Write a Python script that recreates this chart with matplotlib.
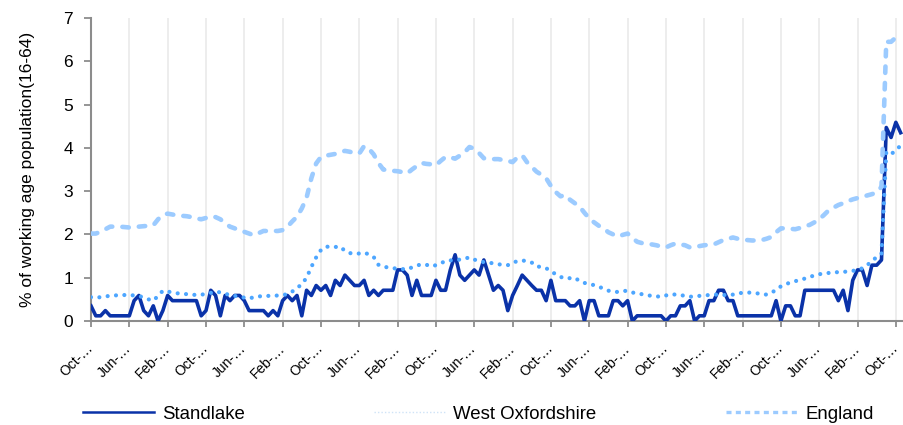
import matplotlib
matplotlib.use('Agg')
import matplotlib.pyplot as plt
from matplotlib.lines import Line2D
from matplotlib.transforms import ScaledTranslation
import numpy as np

plt.rcParams['font.family'] = ['Liberation Sans', 'DejaVu Sans']

# claimant rate, % of working age population (16-64), one value per category
standlake = [0.35, 0.12, 0.12, 0.24, 0.12, 0.12, 0.12, 0.12, 0.12, 0.47,
             0.59, 0.24, 0.12, 0.35, 0.00, 0.24, 0.59, 0.47, 0.47, 0.47,
             0.47, 0.47, 0.47, 0.12, 0.24, 0.71, 0.59, 0.12, 0.59, 0.47,
             0.59, 0.59, 0.47, 0.24, 0.24, 0.24, 0.24, 0.12, 0.24, 0.12,
             0.47, 0.59, 0.47, 0.59, 0.12, 0.71, 0.59, 0.82, 0.71, 0.82,
             0.59, 0.94, 0.82, 1.06, 0.94, 0.82, 0.82, 0.94, 0.59, 0.71,
             0.59, 0.71, 0.71, 0.71, 1.18, 1.18, 1.06, 0.59, 0.94, 0.59,
             0.59, 0.59, 0.94, 0.71, 0.71, 1.18, 1.53, 1.06, 0.94, 1.06,
             1.18, 1.06, 1.41, 1.06, 0.71, 0.82, 0.71, 0.24, 0.59, 0.82,
             1.06, 0.94, 0.82, 0.71, 0.71, 0.47, 0.94, 0.47, 0.47, 0.47,
             0.35, 0.35, 0.47, 0.00, 0.47, 0.47, 0.12, 0.12, 0.12, 0.47,
             0.47, 0.35, 0.47, 0.00, 0.12, 0.12, 0.12, 0.12, 0.12, 0.12,
             0.00, 0.12, 0.12, 0.35, 0.35, 0.47, 0.00, 0.12, 0.12, 0.47,
             0.47, 0.71, 0.71, 0.47, 0.47, 0.12, 0.12, 0.12, 0.12, 0.12,
             0.12, 0.12, 0.12, 0.47, 0.00, 0.35, 0.35, 0.12, 0.12, 0.71,
             0.71, 0.71, 0.71, 0.71, 0.71, 0.71, 0.47, 0.71, 0.24, 0.94,
             1.18, 1.18, 0.82, 1.29, 1.29, 1.41, 4.47, 4.24, 4.59, 4.35]

west_oxon = [0.55, 0.54, 0.55, 0.57, 0.58, 0.59, 0.60, 0.60, 0.60, 0.59,
             0.58, 0.54, 0.50, 0.47, 0.58, 0.70, 0.68, 0.66, 0.64, 0.63,
             0.62, 0.61, 0.60, 0.61, 0.62, 0.65, 0.68, 0.66, 0.63, 0.60,
             0.58, 0.56, 0.54, 0.52, 0.55, 0.57, 0.57, 0.58, 0.58, 0.59,
             0.60, 0.62, 0.68, 0.76, 0.85, 1.00, 1.25, 1.47, 1.64, 1.72,
             1.71, 1.71, 1.72, 1.62, 1.57, 1.55, 1.56, 1.58, 1.54, 1.48,
             1.30, 1.25, 1.24, 1.22, 1.21, 1.20, 1.19, 1.24, 1.28, 1.31,
             1.30, 1.26, 1.29, 1.33, 1.39, 1.40, 1.40, 1.42, 1.44, 1.47,
             1.42, 1.38, 1.36, 1.35, 1.33, 1.31, 1.30, 1.29, 1.35, 1.38,
             1.40, 1.38, 1.35, 1.26, 1.25, 1.22, 1.15, 1.08, 1.02, 0.98,
             0.99, 1.00, 0.92, 0.88, 0.85, 0.83, 0.79, 0.75, 0.70, 0.68,
             0.67, 0.69, 0.70, 0.66, 0.63, 0.62, 0.60, 0.58, 0.57, 0.56,
             0.59, 0.62, 0.61, 0.60, 0.58, 0.56, 0.57, 0.58, 0.59, 0.60,
             0.61, 0.61, 0.60, 0.60, 0.61, 0.64, 0.65, 0.66, 0.65, 0.64,
             0.62, 0.61, 0.65, 0.72, 0.80, 0.85, 0.89, 0.92, 0.95, 0.98,
             1.02, 1.05, 1.08, 1.10, 1.11, 1.12, 1.13, 1.13, 1.15, 1.16,
             1.17, 1.22, 1.29, 1.38, 1.48, 1.56, 3.90, 3.85, 3.95, 4.05]

england = [2.02, 2.02, 2.06, 2.12, 2.18, 2.18, 2.18, 2.17, 2.16, 2.17,
           2.18, 2.19, 2.20, 2.21, 2.35, 2.45, 2.48, 2.46, 2.44, 2.43,
           2.42, 2.40, 2.37, 2.35, 2.38, 2.42, 2.40, 2.35, 2.26, 2.18,
           2.14, 2.10, 2.06, 2.02, 1.98, 2.03, 2.08, 2.08, 2.08, 2.08,
           2.10, 2.18, 2.30, 2.41, 2.60, 2.85, 3.30, 3.64, 3.79, 3.82,
           3.84, 3.86, 3.90, 3.93, 3.91, 3.88, 3.87, 4.04, 3.98, 3.85,
           3.65, 3.50, 3.48, 3.47, 3.46, 3.44, 3.41, 3.50, 3.58, 3.65,
           3.63, 3.62, 3.60, 3.70, 3.79, 3.78, 3.75, 3.82, 3.90, 4.02,
           3.98, 3.88, 3.76, 3.75, 3.74, 3.74, 3.72, 3.70, 3.67, 3.78,
           3.83, 3.67, 3.56, 3.45, 3.38, 3.30, 3.12, 2.98, 2.88, 2.91,
           2.80, 2.72, 2.64, 2.50, 2.37, 2.28, 2.20, 2.14, 2.05, 2.00,
           1.95, 1.99, 2.02, 1.92, 1.83, 1.80, 1.78, 1.77, 1.75, 1.72,
           1.70, 1.75, 1.79, 1.77, 1.75, 1.70, 1.72, 1.73, 1.75, 1.76,
           1.77, 1.82, 1.87, 1.90, 1.93, 1.90, 1.88, 1.87, 1.86, 1.86,
           1.87, 1.90, 1.94, 2.05, 2.14, 2.14, 2.13, 2.12, 2.15, 2.19,
           2.22, 2.28, 2.35, 2.45, 2.56, 2.62, 2.68, 2.72, 2.77, 2.81,
           2.84, 2.87, 2.90, 2.93, 2.97, 3.10, 6.45, 6.45, 6.55, 6.60]

tick_labels = ['Oct-…', 'Jun-…', 'Feb-…'] * 7 + ['Oct-…']
series_names = ['Standlake', 'West Oxfordshire', 'England']

DARK = '#0a32a8'
MID = '#4da6ff'
LIGHT = '#9ccbff'

x = np.arange(len(standlake))

fig = plt.figure(figsize=(9.04, 4.25), dpi=100)
ax = fig.add_axes([91 / 904, 1 - 321 / 425, 1 - 91 / 904, (321 - 18) / 425])

ax.plot(x, standlake, color=DARK, lw=2.6, solid_joinstyle='round', zorder=3)
ax.plot(x, west_oxon, color=MID, lw=3.0, ls=(0, (0.01, 2.0)),
        dash_capstyle='round', zorder=4)
ax.plot(x, england, color=LIGHT, lw=3.3, ls=(0, (1.4, 2.2)),
        dash_capstyle='round', zorder=5)

ax.set_xlim(0, 169.7)
ax.set_ylim(0, 7)
ax.set_yticks(range(0, 8))
ax.set_xticks(range(0, 169, 8))
ax.set_xticklabels(tick_labels, rotation=45, ha='right', va='center',
                   rotation_mode='anchor', fontsize=10)
shift = ScaledTranslation(-6 / 100, 0, fig.dpi_scale_trans)
for lab in ax.get_xticklabels():
    lab.set_transform(lab.get_transform() + shift)
ax.tick_params(axis='y', labelsize=12.5, length=5, width=1.3, color='#8c8c8c', pad=8)
ax.tick_params(axis='x', length=4, width=1.3, color='#8c8c8c', pad=14)
ax.grid(axis='x', color='#ececec', lw=1.3, zorder=0)
ax.set_axisbelow(True)

for s in ['top', 'right']:
    ax.spines[s].set_visible(False)
for s in ['left', 'bottom']:
    ax.spines[s].set_color('#8c8c8c')
    ax.spines[s].set_linewidth(1.5)

ax.set_ylabel('% of working age population(16-64)', fontsize=12.5, labelpad=20)

handles = [Line2D([], [], color=DARK, lw=1.8),
           Line2D([], [], color='#cfe3f7', lw=1.0, ls=(0, (1, 1.5))),
           Line2D([], [], color=LIGHT, lw=2.4, ls=(0, (1.5, 1.3)))]
fig.legend(handles, series_names, loc='center left', ncol=3,
           bbox_to_anchor=(83 / 904, 11 / 425), frameon=False, fontsize=13.4,
           handlelength=3.8, handletextpad=0.45, columnspacing=6.95,
           borderpad=0, borderaxespad=0)

fig.savefig('out.png', dpi=100)
